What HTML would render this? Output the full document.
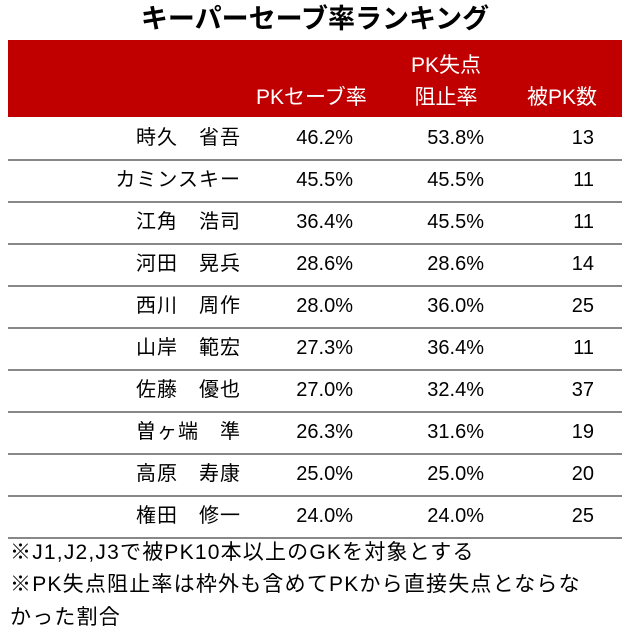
<!DOCTYPE html>
<html><head><meta charset="utf-8"><style>
body{margin:0;width:630px;height:644px;background:#fff;font-family:"Liberation Sans","Noto Sans CJK JP",sans-serif;color:#000;position:relative;overflow:hidden}
.a{position:absolute;white-space:nowrap}
#title{left:0;width:630px;top:3px;text-align:center;font-size:27px;font-weight:bold;line-height:32px}
#hdr{left:8px;top:40px;width:614px;height:77px;background:#c00000}
.h{color:#fff;font-size:21px;line-height:24px}
.r{font-size:20px;line-height:24px}
.nm{letter-spacing:1px}
.ln{position:absolute;left:8px;width:614px;height:2px;background:#888}
.fn{font-size:21px;left:10px;line-height:24px;letter-spacing:1.2px}
</style></head><body>
<div class="a" id="title">キーパーセーブ率ランキング</div>
<div class="a" id="hdr"></div>
<div class="a h" style="left:256px;top:86px">PKセーブ率</div>
<div class="a h" style="left:400px;top:54px;width:92px;text-align:center">PK失点</div>
<div class="a h" style="left:400px;top:86px;width:92px;text-align:center">阻止率</div>
<div class="a h" style="left:527px;top:86px">被PK数</div>
<div id="rows"></div>
<div class="a fn" style="top:541px">※J1,J2,J3で被PK10本以上のGKを対象とする</div>
<div class="a fn" style="top:573px">※PK失点阻止率は枠外も含めてPKから直接失点とならな</div>
<div class="a fn" style="top:606px">かった割合</div>
<script>
const names=["時久　省吾","カミンスキー","江角　浩司","河田　晃兵","西川　周作","山岸　範宏","佐藤　優也","曽ヶ端　準","高原　寿康","権田　修一"];
const saveRate=["46.2%","45.5%","36.4%","28.6%","28.0%","27.3%","27.0%","26.3%","25.0%","24.0%"];
const blockRate=["53.8%","45.5%","45.5%","28.6%","36.0%","36.4%","32.4%","31.6%","25.0%","24.0%"];
const pkCount=["13","11","11","14","25","11","37","19","20","25"];
const c=document.getElementById('rows');
names.forEach((n,i)=>{
 const top=117+i*42;
 const cells=[[n,241,'name'],[saveRate[i],353,'save-rate'],[blockRate[i],484,'block-rate'],[pkCount[i],594,'pk-count']];
 cells.forEach(([t,right,k])=>{
  const d=document.createElement('div');
  d.className='a r'+(k==='name'?' nm':'');
  d.style.right=(630-right)+'px';
  d.style.top=(top+9)+'px';
  d.textContent=t;
  
  
  c.appendChild(d);
 });
 const l=document.createElement('div');
 l.className='ln';
 l.style.top=(top+42)+'px';
 
 
 c.appendChild(l);
});
</script>
</body></html>
